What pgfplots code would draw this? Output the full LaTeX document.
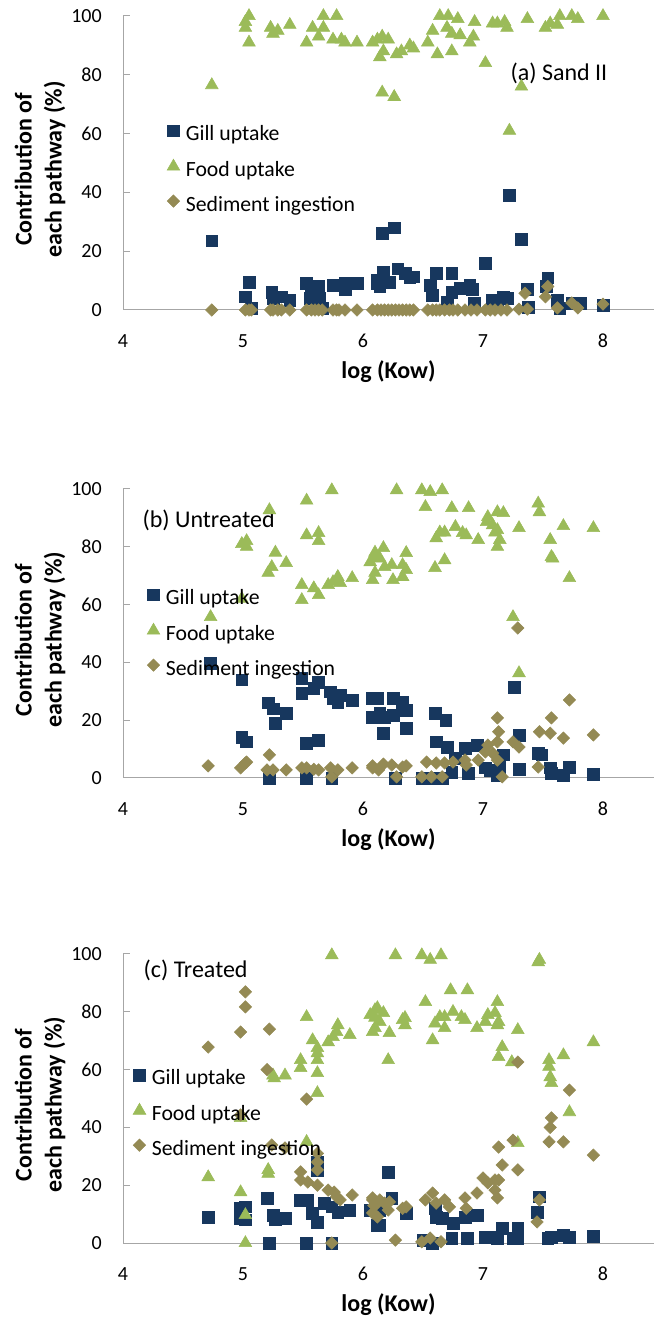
\documentclass[border=0pt]{standalone}
\usepackage{fontspec}
\setmainfont{Carlito}
\usepackage{pgfplots}
\pgfplotsset{compat=1.18}

\definecolor{gillblue}{HTML}{17375E}
\definecolor{foodgreen}{HTML}{9BBB59}
\definecolor{sedkhaki}{HTML}{948A54}
\definecolor{axisgrey}{HTML}{A6A6A6}

\newcommand\ticksize{\fontsize{15pt}{17pt}\selectfont}
\newcommand\legendfont{\fontsize{16.3pt}{19pt}\selectfont}
\newcommand\titlefont{\fontsize{18pt}{21pt}\selectfont}
\newcommand\labelfont{\fontsize{18pt}{22.5pt}\selectfont\bfseries}

\pgfplotsset{
  panel/.style={
    scale only axis, width=398.25pt,
    xmin=4, xmax=8.425, ymin=0, ymax=100,
    axis lines*=left,
    axis line style={draw=axisgrey, line width=0.75pt},
    xtick={4,5,6,7,8}, ytick={0,20,40,60,80,100},
    xtick style={draw=none},
    ytick style={draw=axisgrey, line width=0.75pt},
    tick align=inside, major tick length=5.25pt,
    tick label style={font=\ticksize, text=black},
    /pgf/number format/assume math mode=true,
    yticklabel style={anchor=east, inner sep=0pt, xshift=-15.75pt},
    xticklabel style={anchor=center, inner sep=0pt, yshift=-23pt},
    xlabel={log (Kow)},
    ylabel={Contribution of\\each pathway (\%)},
    every axis x label/.style={at={(axis description cs:0.5,0)}, anchor=center, yshift=-46pt, font=\labelfont},
    every axis y label/.style={at={(axis description cs:-0.1563,0.478)}, rotate=90, anchor=center, align=center, font=\labelfont},
    clip=false,
    legend cell align=left,
    legend style={draw=none, fill=none, font=\legendfont, inner sep=0pt,
      row sep=10.75pt, column sep=4.5pt,
      nodes={inner sep=0pt, text height=11pt, text depth=3pt}},
    legend image code/.code={\draw[#1] plot coordinates {(4.6pt,3.5pt)};},
  },
  gill/.style={only marks, mark=square*, mark size=4.4pt, color=gillblue},
  food/.style={only marks, mark=triangle*, mark size=5.5pt, color=foodgreen},
  sed/.style={only marks, mark=square*, mark size=3.3pt, mark options={rotate=45}, color=sedkhaki},
}

\begin{document}
\begin{tikzpicture}
\path[use as bounding box] (0,0) rectangle (490.5pt,990pt);

% ---------------- (a) Sand II ----------------
\begin{axis}[panel, height=220.5pt, at={(92.25pt,757.5pt)}, anchor=south west,
  legend style={at={(axis description cs:0.0826,0.476)}, anchor=west}]
\addplot[gill] coordinates {
(4.74,23.5) (5.05,9.5) (5.02,4.5) (5.07,0.7) (5.24,6) (5.25,4) (5.32,4.5) (5.39,3.4)
(5.53,9) (5.57,6) (5.56,4) (5.63,8) (5.64,4) (5.66,0.7) (5.75,8.5) (5.85,9) (5.85,7)
(5.95,9) (6.12,9) (6.16,26) (6.26,28) (6.17,13) (6.12,10) (6.14,8) (6.22,9.5) (6.29,14)
(6.35,12.5) (6.39,11) (6.42,11.3) (6.56,8.5) (6.61,12.5) (6.58,5) (6.74,12.5) (6.74,6)
(6.81,7.4) (6.89,8.5) (6.91,7) (6.70,2.7) (6.93,2.4) (7.02,16) (7.08,3.4) (7.12,2.7)
(7.17,4.5) (7.20,4) (7.22,39) (7.32,24) (7.37,7) (7.38,1) (7.54,11) (7.53,8) (7.62,3.4)
(7.64,0.7) (7.74,2.4) (7.81,2.4) (8.00,1.7)
};
\addlegendentry{Gill uptake}
\addplot[food] coordinates {
(4.74,76.5) (5.05,100) (5.02,98) (5.02,96) (5.05,91) (5.23,96) (5.25,94) (5.29,95)
(5.39,97) (5.53,91) (5.58,96) (5.63,93) (5.67,100) (5.67,96) (5.78,100) (5.75,92)
(5.82,92) (5.85,91) (5.95,91) (6.08,91) (6.12,92) (6.16,93) (6.21,92) (6.17,88) (6.14,86)
(6.28,87) (6.32,88) (6.39,90) (6.42,89) (6.16,74) (6.26,72.5) (6.64,100) (6.71,100)
(6.79,99) (6.58,95) (6.70,96) (6.74,94) (6.81,93.5) (6.54,91) (6.62,87) (6.74,88)
(6.89,91) (6.92,93) (6.93,98) (7.02,84) (7.08,97.5) (7.12,97.5) (7.18,98) (7.20,96)
(7.37,99) (7.22,61) (7.32,76) (7.52,96) (7.56,97.5) (7.64,100) (7.62,97) (7.74,100)
(7.79,99) (8.00,100)
};
\addlegendentry{Food uptake}
\addplot[sed] coordinates {
(4.74,0) (5.02,0) (5.05,0) (5.07,0) (5.23,0) (5.25,0) (5.29,0) (5.32,0) (5.39,0) (5.53,0)
(5.57,0) (5.60,0) (5.63,0) (5.66,0) (5.75,0) (5.78,0) (5.80,0) (5.85,0) (5.95,0) (6.08,0)
(6.12,0) (6.15,0) (6.18,0) (6.21,0) (6.24,0) (6.27,0) (6.30,0) (6.33,0) (6.36,0) (6.39,0)
(6.42,0) (6.54,0) (6.58,0) (6.61,0) (6.64,0) (6.68,0) (6.72,0) (6.75,0) (6.79,0) (6.85,0)
(6.90,0) (6.95,0) (7.02,0) (7.06,0) (7.10,0) (7.15,0) (7.20,0) (7.30,0.3) (7.37,0.3)
(7.35,5.7) (7.52,4.5) (7.54,8) (7.62,0.7) (7.74,2.4) (7.79,0.7) (8.00,2)
};
\addlegendentry{Sediment ingestion}
\node[font=\titlefont, anchor=center] at (axis description cs:0.821,0.806) {(a) Sand II};
\end{axis}

% ---------------- (b) Untreated ----------------
\begin{axis}[panel, height=216.75pt, at={(92.25pt,406.5pt)}, anchor=south west,
  legend style={at={(axis description cs:0.045,0.498)}, anchor=west}]
\addplot[gill] coordinates {
(4.73,39.8) (4.99,34) (4.99,14) (5.03,12.5) (5.21,26) (5.25,24) (5.27,19) (5.36,22.5)
(5.22,0) (5.49,34.6) (5.49,29.4) (5.59,31) (5.63,33) (5.53,12) (5.63,13) (5.53,0)
(5.73,29.8) (5.75,27.7) (5.81,28.7) (5.79,26) (5.91,27) (5.74,0) (6.08,27.7) (6.08,21)
(6.12,27.7) (6.25,27.7) (6.33,26.3) (6.36,23.5) (6.14,22.5) (6.18,21) (6.25,21.8)
(6.17,15.5) (6.36,17.3) (6.60,22.5) (6.69,20) (6.61,12.5) (6.70,10.7) (6.85,10.4)
(6.95,11.4) (6.77,6.9) (6.74,2) (6.88,1.7) (7.02,3.5) (7.06,2.8) (7.12,1) (7.14,3.8)
(7.17,8) (7.26,31.5) (7.30,14.9) (7.30,3) (7.46,8.6) (7.49,8) (7.56,3.5) (7.57,1.7)
(7.67,1) (7.72,3.8) (7.92,1.4) (6.27,0) (6.49,0) (6.56,0) (6.66,0)
};
\addlegendentry{Gill uptake}
\addplot[food] coordinates {
(4.73,55.7) (4.99,62) (4.99,81) (5.03,82) (5.03,80) (5.22,92.7) (5.27,78) (5.24,73)
(5.21,71) (5.36,74.4) (5.49,66.8) (5.49,61.6) (5.53,96) (5.53,84) (5.63,84.8) (5.63,82)
(5.59,65.7) (5.63,63.3) (5.74,99.6) (5.71,66.8) (5.75,67.8) (5.79,69.6) (5.81,67.5)
(5.91,69.2) (6.06,74.7) (6.10,76.5) (6.10,71) (6.08,68.5) (6.10,78) (6.17,79.6)
(6.14,76) (6.18,73) (6.24,73.7) (6.25,68.5) (6.33,69.6) (6.36,77.9) (6.33,73.7)
(6.36,72) (6.28,99.6) (6.49,99.6) (6.56,99) (6.66,99.6) (6.52,93.8) (6.74,93.4)
(6.88,93.4) (6.77,86.9) (6.64,85) (6.68,85) (6.61,83) (6.83,84.8) (6.86,84) (6.96,82.4)
(6.68,75.4) (6.60,72.7) (7.03,88.6) (7.04,90.3) (7.12,92) (7.17,91.7) (7.08,87.5)
(7.10,85) (7.12,85.8) (7.14,82.4) (7.12,80) (7.30,86.5) (7.46,95) (7.47,92) (7.56,82.4)
(7.57,76.5) (7.58,76) (7.67,87.2) (7.92,86.5) (7.72,69.2) (7.25,55.7) (7.30,36.3)
};
\addlegendentry{Food uptake}
\addplot[sed] coordinates {
(4.71,4.2) (4.98,3.5) (5.02,5.2) (5.03,5.5) (5.20,2.8) (5.22,8) (5.25,2.8) (5.36,2.8)
(5.49,3.5) (5.53,3.5) (5.59,3) (5.63,2.8) (5.73,3.5) (5.74,0.4) (5.79,2.8) (5.91,3.5)
(6.08,3.5) (6.13,2.8) (6.08,4.2) (6.17,4.8) (6.24,4.5) (6.33,3.8) (6.36,4.2) (6.28,0.4)
(6.49,0.4) (6.57,0.4) (6.66,0.4) (6.53,5.5) (6.61,5.2) (6.68,5.2) (6.75,5.5) (6.85,6.2)
(6.86,4.5) (6.96,6.2) (7.02,9) (7.04,11.4) (7.08,8.6) (7.12,12.5) (7.12,6.2) (7.16,0.4)
(7.12,20.8) (7.13,16) (7.25,12.5) (7.30,10.7) (7.29,51.9) (7.47,16) (7.56,15.5)
(7.57,20.8) (7.46,3.8) (7.67,13.8) (7.72,27) (7.92,14.9)
};
\addlegendentry{Sediment ingestion}
\node[font=\titlefont, anchor=west] at (axis description cs:0.028,0.893) {(b) Untreated};
\end{axis}

% ---------------- (c) Treated ----------------
\begin{axis}[panel, height=216.75pt, at={(92.25pt,57.75pt)}, anchor=south west,
  legend style={at={(axis description cs:0.0186,0.446)}, anchor=west}]
\addplot[gill] coordinates {
(4.71,9) (4.98,12) (5.02,12.5) (4.98,8.6) (5.02,8) (5.20,15.6) (5.25,9.7) (5.27,8)
(5.35,8.6) (5.22,0) (5.48,14.9) (5.54,14.9) (5.58,10.4) (5.62,7.3) (5.62,28) (5.62,25)
(5.53,0) (5.68,13.8) (5.74,12.5) (5.79,10.7) (5.89,11.4) (5.74,0) (6.06,11.4) (6.12,6.2)
(6.21,24.6) (6.24,15.6) (6.14,11.4) (6.10,12) (6.36,10.4) (6.14,6.2) (6.60,12) (6.61,9)
(6.66,8.6) (6.75,6.9) (6.85,9) (6.95,9.7) (6.87,1.7) (6.74,1.7) (6.50,1) (6.58,0)
(7.02,2) (7.07,2) (7.12,1.7) (7.16,5.2) (7.29,5.2) (7.29,1.7) (7.25,1.7) (7.47,16)
(7.45,10.7) (7.54,1.7) (7.57,2) (7.67,2.8) (7.72,2) (7.92,2.4)
};
\addlegendentry{Gill uptake}
\addplot[food] coordinates {
(4.71,22.8) (4.98,43.3) (4.98,17.6) (5.02,9.7) (5.02,0) (5.21,25.3) (5.21,24) (5.25,58)
(5.26,57) (5.35,58) (5.48,63.3) (5.48,60.6) (5.53,78.2) (5.53,35) (5.58,70.2) (5.62,67.5)
(5.62,65.7) (5.62,63.3) (5.62,58.8) (5.62,51.9) (5.74,99.6) (5.71,69.5) (5.75,71.3)
(5.79,75.4) (5.78,73) (5.89,72) (6.06,78.9) (6.10,80.6) (6.08,73) (6.12,81.3) (6.17,79.6)
(6.10,78) (6.14,76.5) (6.10,74.4) (6.22,72.7) (6.33,77.2) (6.35,77.9) (6.35,75.4)
(6.21,63.3) (6.27,99.6) (6.49,99.6) (6.56,98) (6.65,99.6) (6.52,83.4) (6.73,87.5)
(6.87,87.5) (6.60,76) (6.64,78.2) (6.68,78.2) (6.68,74.4) (6.58,70.2) (6.75,80) (6.82,78.2)
(6.85,77.2) (6.95,74.4) (7.02,76.5) (7.04,78.9) (7.10,79.6) (7.12,83.4) (7.12,75.4)
(7.13,76.5) (7.16,67.8) (7.13,64.4) (7.24,62.6) (7.29,73.7) (7.29,34.6) (7.46,97.2)
(7.47,98) (7.55,63.3) (7.55,61) (7.56,57.4) (7.57,55.4) (7.67,65) (7.72,45.3) (7.92,69.5)
};
\addlegendentry{Food uptake}
\addplot[sed] coordinates {
(4.71,67.8) (4.98,73) (5.02,86.9) (5.02,81.7) (5.22,74) (5.20,60) (5.53,49.8) (4.98,44.3)
(5.24,33.9) (5.35,32.9) (5.62,31) (5.62,28) (5.62,25.3) (5.48,24.6) (5.48,21.8) (5.54,21.1)
(5.62,20) (5.71,18.3) (5.76,17.6) (5.78,16) (5.81,14.9) (5.91,16.6) (5.74,0) (6.08,14.9)
(6.09,13) (6.08,15.6) (6.14,14.9) (6.10,13) (6.18,13.8) (6.22,14.2) (6.08,10.4) (6.12,9)
(6.21,11.4) (6.33,12) (6.36,12.5) (6.27,1) (6.49,0.4) (6.56,1.7) (6.65,0.4) (6.52,14.9)
(6.58,17.3) (6.61,13.8) (6.68,14.9) (6.72,12.5) (6.85,15.6) (6.86,12) (6.95,17.3)
(7.00,22.5) (7.04,20.8) (7.10,21.8) (7.13,21.8) (7.10,18.3) (7.12,15.6) (7.13,33.2)
(7.16,27) (7.25,35.6) (7.29,25.3) (7.29,62.6) (7.47,14.9) (7.45,7.3) (7.55,35) (7.56,40)
(7.57,43.3) (7.67,35) (7.72,52.9) (7.92,30.4)
};
\addlegendentry{Sediment ingestion}
\node[font=\titlefont, anchor=west] at (axis description cs:0.030,0.945) {(c) Treated};
\end{axis}
\end{tikzpicture}
\end{document}
